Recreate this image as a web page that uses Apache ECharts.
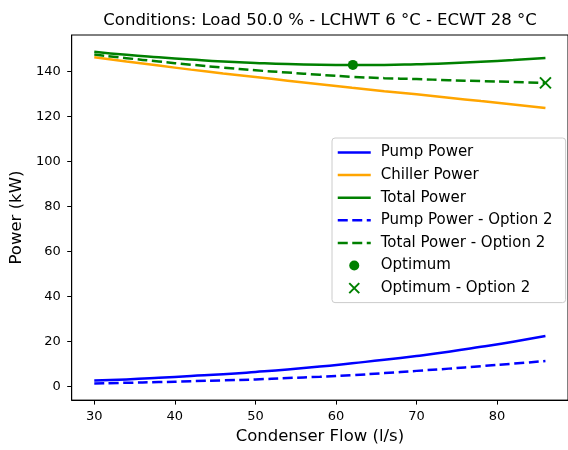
<!DOCTYPE html>
<html>
<head>
<meta charset="utf-8">
<script src="https://cdn.jsdelivr.net/npm/echarts@6/dist/echarts.min.js"></script>
<style>
html,body{margin:0;padding:0;background:#fff;}
#chart{width:568px;height:450px;}
</style>
</head>
<body>
<div id="chart"></div>
<script>
// ---- data ----
const flows = [30, 34, 38, 42, 46, 50, 54, 58, 62, 66, 70, 74, 78, 82, 86];
const pumpPower = [2.5, 3.0, 3.7, 4.5, 5.3, 6.3, 7.4, 8.7, 10.2, 11.7, 13.4, 15.3, 17.5, 19.8, 22.3];
const chillerPower = [146.3, 144.4, 142.6, 140.8, 139.1, 137.5, 135.9, 134.3, 132.7, 131.2, 129.8, 128.3, 126.8, 125.3, 123.7];
const totalPower = [148.8, 147.4, 146.3, 145.3, 144.4, 143.8, 143.3, 143.0, 142.9, 142.9, 143.2, 143.6, 144.3, 145.1, 146.0];
const pumpPower2 = [1.2, 1.5, 1.8, 2.2, 2.6, 3.0, 3.6, 4.2, 4.9, 5.8, 6.8, 7.8, 8.9, 10.0, 11.2];
const totalPower2 = [147.5, 145.9, 144.4, 143.0, 141.7, 140.5, 139.5, 138.5, 137.6, 137.0, 136.6, 136.1, 135.7, 135.3, 134.9];
const optimum = [62.1, 142.9];
const optimum2 = [86, 134.9];
const xTicks = [30, 40, 50, 60, 70, 80];
const yTicks = [0, 20, 40, 60, 80, 100, 120, 140];
const titleText = 'Conditions: Load 50.0 % - LCHWT 6 °C - ECWT 28 °C';

const pair = (xs, ys) => xs.map((x, i) => [x, ys[i]]);
const FONT = 'DejaVu Sans';
const BLUE = '#0000ff', ORANGE = '#ffa500', GREEN = '#008000';
const LW = 2.5, DASH = [10, 4.5];

const chart = echarts.init(document.getElementById('chart'), null, {renderer: 'canvas'});

function lineSeries(name, ys, color, dashed) {
  return {
    name: name, type: 'line', data: pair(flows, ys),
    smooth: 0.5, symbol: 'none', showSymbol: false,
    lineStyle: {color: color, width: LW, type: dashed ? DASH : 'solid'},
    itemStyle: {color: color},
    emphasis: {disabled: true}, z: 3
  };
}
const lineLegend = (name, color, dashed) => ({
  name: name, itemStyle: {opacity: 0},
  lineStyle: {color: color, width: LW, type: dashed ? DASH : 'solid', opacity: 1}
});

const option = {
  animation: false,
  backgroundColor: '#ffffff',
  textStyle: {fontFamily: FONT},
  graphic: [{
    type: 'text', x: 320, y: 21,
    style: {text: titleText, font: '16.5px "DejaVu Sans"', fill: '#000', textAlign: 'center', textVerticalAlign: 'middle'}
  }],
  grid: {
    left: 70.5, top: 35, width: 500.6, height: 371.5,
    show: true, borderColor: '#000', borderWidth: 1, backgroundColor: 'transparent'
  },
  xAxis: {
    type: 'value', min: 27.2, max: 88.8,
    name: 'Condenser Flow (l/s)', nameLocation: 'middle', nameGap: 26,
    nameTextStyle: {fontFamily: FONT, fontSize: 16.5, color: '#000'},
    axisLine: {show: true, onZero: false, lineStyle: {color: '#000', width: 1}},
    axisTick: {show: true, length: 4.5, lineStyle: {color: '#000', width: 1}, customValues: xTicks},
    axisLabel: {show: true, margin: 10, fontFamily: FONT, fontSize: 13, color: '#000', customValues: xTicks},
    splitLine: {show: false}
  },
  yAxis: {
    type: 'value', min: -6.2, max: 156.2,
    name: 'Power (kW)', nameLocation: 'middle', nameGap: 43, nameRotate: 90,
    nameTextStyle: {fontFamily: FONT, fontSize: 16.5, color: '#000'},
    axisLine: {show: true, onZero: false, lineStyle: {color: '#000', width: 1}},
    axisTick: {show: true, length: 4.5, lineStyle: {color: '#000', width: 1}, customValues: yTicks},
    axisLabel: {show: true, margin: 11, fontFamily: FONT, fontSize: 13, color: '#000', customValues: yTicks},
    splitLine: {show: false}
  },
  legend: {
    orient: 'vertical', left: 332, top: 138,
    padding: [6, 13, 6, 4.5],
    itemWidth: 33, itemHeight: 10, itemGap: 5.6,
    backgroundColor: 'rgba(255,255,255,0.85)', borderColor: '#cccccc', borderWidth: 1, borderRadius: 3,
    textStyle: {fontFamily: FONT, fontSize: 15, color: '#000', lineHeight: 17, padding: [0, 0, 0, 5]},
    selectedMode: false,
    data: [
      lineLegend('Pump Power', BLUE, false), lineLegend('Chiller Power', ORANGE, false),
      lineLegend('Total Power', GREEN, false),
      lineLegend('Pump Power - Option 2', BLUE, true), lineLegend('Total Power - Option 2', GREEN, true),
      {name: 'Optimum', itemStyle: {opacity: 1}},
      {name: 'Optimum - Option 2', itemStyle: {opacity: 1}}
    ]
  },
  series: [
    lineSeries('Pump Power', pumpPower, BLUE, false),
    lineSeries('Chiller Power', chillerPower, ORANGE, false),
    lineSeries('Total Power', totalPower, GREEN, false),
    lineSeries('Pump Power - Option 2', pumpPower2, BLUE, true),
    lineSeries('Total Power - Option 2', totalPower2, GREEN, true),
    {
      name: 'Optimum', type: 'scatter', data: [optimum], symbol: 'circle', symbolSize: 10,
      itemStyle: {color: GREEN, opacity: 1}, z: 5, emphasis: {disabled: true}
    },
    {
      name: 'Optimum - Option 2', type: 'scatter', data: [optimum2],
      symbol: 'path://M0,0L10,10M10,0L0,10', symbolSize: 11,
      itemStyle: {color: 'rgba(0,0,0,0)', borderColor: GREEN, borderWidth: 2, opacity: 1}, z: 5, emphasis: {disabled: true}
    }
  ]
};
chart.setOption(option);
</script>
</body>
</html>
